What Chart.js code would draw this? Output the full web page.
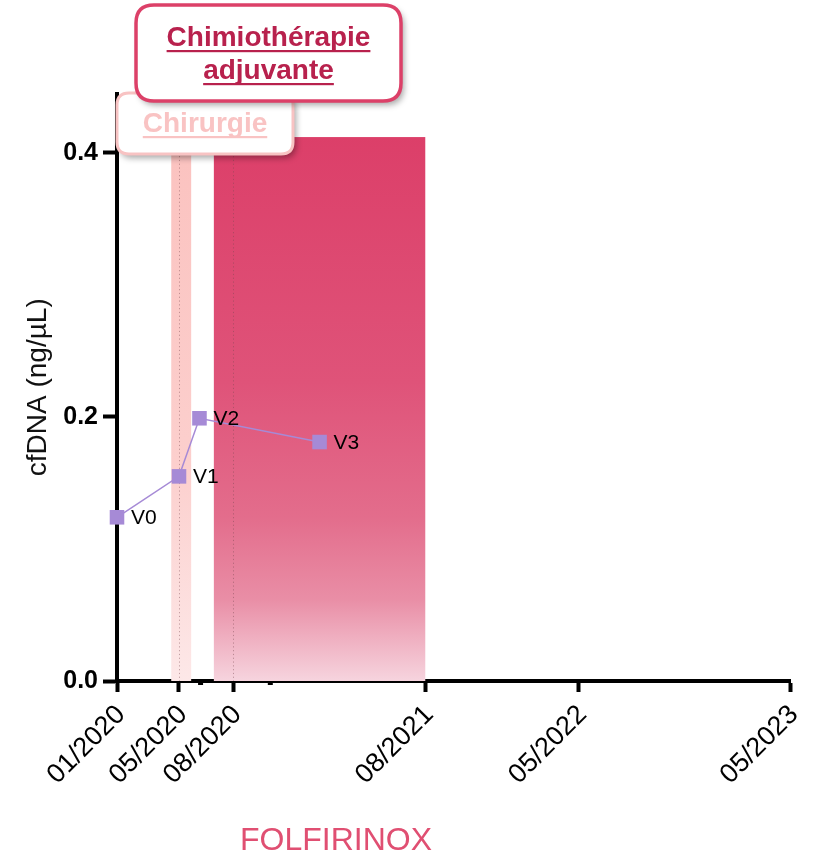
<!DOCTYPE html>
<html><head><meta charset="utf-8">
<script src="https://cdn.jsdelivr.net/npm/chart.js@4/dist/chart.umd.min.js"></script>
<style>html,body{margin:0;padding:0;background:#fff;overflow:hidden}canvas{display:block}</style>
</head><body>
<canvas id="c" width="821" height="854"></canvas>
<script>
// ---- data ----
const visitLabels = ['V0', 'V1', 'V2', 'V3'];
const visitDays = [0, 112, 149, 366];          // days since 01/2020
const cfDNA = [0.124, 0.155, 0.199, 0.181];    // ng/µL
const tickDays = [0, 112, 210, 557, 834, 1216];
const tickLabels = ['01/2020', '05/2020', '08/2020', '08/2021', '05/2022', '05/2023'];
const minorTickDays = [151, 277];
const yTicks = [0, 0.2, 0.4];
const surgeryPeriod = [98, 134];
const surgeryMarkerDay = 112;
const chemoPeriod = [175, 557];
const chemoMarkerDay = 210;
const periodTop = 0.412;
const yMax = 0.445;

const FONT = 'Arial, "Liberation Sans", Helvetica, sans-serif';

function roundRectPath(ctx, x, y, w, h, r) {
  ctx.beginPath();
  ctx.moveTo(x + r, y);
  ctx.lineTo(x + w - r, y);
  ctx.quadraticCurveTo(x + w, y, x + w, y + r);
  ctx.lineTo(x + w, y + h - r);
  ctx.quadraticCurveTo(x + w, y + h, x + w - r, y + h);
  ctx.lineTo(x + r, y + h);
  ctx.quadraticCurveTo(x, y + h, x, y + h - r);
  ctx.lineTo(x, y + r);
  ctx.quadraticCurveTo(x, y, x + r, y);
  ctx.closePath();
}

function labelBox(ctx, x, y, w, h, r, stroke, lw, lines, color, cx, baselines) {
  ctx.save();
  ctx.shadowColor = 'rgba(0,0,0,0.35)';
  ctx.shadowBlur = 6;
  ctx.shadowOffsetX = 3;
  ctx.shadowOffsetY = 4;
  roundRectPath(ctx, x, y, w, h, r);
  ctx.fillStyle = '#fff';
  ctx.fill();
  ctx.shadowColor = 'transparent';
  ctx.lineWidth = lw;
  ctx.strokeStyle = stroke;
  ctx.stroke();
  ctx.font = 'bold 28px ' + FONT;
  ctx.fillStyle = color;
  ctx.textAlign = 'center';
  ctx.textBaseline = 'alphabetic';
  lines.forEach((t, i) => {
    ctx.fillText(t, cx, baselines[i]);
    const tw = ctx.measureText(t).width;
    ctx.fillRect(cx - tw / 2, baselines[i] + 4, tw, 2.2);
  });
  ctx.restore();
}

const periodsPlugin = {
  id: 'periods',
  beforeDatasetsDraw(chart) {
    const {ctx, scales: {x, y}} = chart;
    const y0 = y.getPixelForValue(0);
    const yt = y.getPixelForValue(periodTop);
    ctx.save();
    // surgery band
    let g = ctx.createLinearGradient(0, yt, 0, y0);
    g.addColorStop(0, '#fbc2bf');
    g.addColorStop(0.6, '#fccfcd');
    g.addColorStop(1, '#fde8e8');
    ctx.fillStyle = g;
    const sx1 = x.getPixelForValue(surgeryPeriod[0]), sx2 = x.getPixelForValue(surgeryPeriod[1]);
    ctx.fillRect(sx1, yt, sx2 - sx1, y0 - yt);
    // chemo band
    g = ctx.createLinearGradient(0, yt, 0, y0);
    g.addColorStop(0, '#dc3f69');
    g.addColorStop(0.45, '#df5379');
    g.addColorStop(0.7, '#e36d8c');
    g.addColorStop(0.85, '#e98ea6');
    g.addColorStop(1, '#f6d4de');
    ctx.fillStyle = g;
    const cx1 = x.getPixelForValue(chemoPeriod[0]), cx2 = x.getPixelForValue(chemoPeriod[1]);
    ctx.fillRect(cx1, yt, cx2 - cx1, y0 - yt);
    // dotted markers
    ctx.setLineDash([1.2, 2.6]);
    ctx.lineWidth = 1;
    ctx.strokeStyle = 'rgba(120,70,80,0.45)';
    [surgeryMarkerDay, chemoMarkerDay].forEach(d => {
      const px = Math.round(x.getPixelForValue(d)) + 0.5;
      ctx.beginPath();
      ctx.moveTo(px, yt);
      ctx.lineTo(px, y0);
      ctx.stroke();
    });
    ctx.restore();
  },
  afterDatasetsDraw(chart) {
    const {ctx} = chart;
    const meta = chart.getDatasetMeta(0);
    ctx.save();
    ctx.font = '21px ' + FONT;
    ctx.fillStyle = '#000';
    ctx.textAlign = 'left';
    ctx.textBaseline = 'middle';
    meta.data.forEach((pt, i) => {
      ctx.fillText(visitLabels[i], pt.x + 14, pt.y + 1);
    });
    ctx.restore();
  },
  afterDraw(chart) {
    const {ctx, scales: {x, y}} = chart;
    ctx.save();
    // minor ticks
    ctx.fillStyle = '#000';
    const yb = y.getPixelForValue(0);
    minorTickDays.forEach(d => {
      const px = x.getPixelForValue(d);
      ctx.fillRect(px - 2.5, yb + 1, 5, 3);
    });
    // FOLFIRINOX label
    ctx.font = '32px ' + FONT;
    ctx.fillStyle = '#e04f72';
    ctx.textAlign = 'center';
    ctx.textBaseline = 'alphabetic';
    ctx.fillText('FOLFIRINOX', 336, 850);
    ctx.restore();
    // annotation boxes
    labelBox(ctx, 117, 93, 176, 61, 12, '#f8c3c3', 3, ['Chirurgie'], '#f9c3c3', 205, [132]);
    labelBox(ctx, 136, 5, 265, 96, 18, '#dc4068', 3.5, ['Chimiothérapie', 'adjuvante'], '#b8214d', 268.5, [46, 79]);
  }
};

new Chart(document.getElementById('c'), {
  type: 'scatter',
  data: {
    datasets: [{
      data: visitDays.map((d, i) => ({x: d, y: cfDNA[i]})),
      showLine: true,
      borderColor: '#a68ad6',
      borderWidth: 1.5,
      backgroundColor: '#a68ad6',
      pointBackgroundColor: '#a68ad6',
      pointBorderColor: '#a68ad6',
      pointBorderWidth: 0,
      pointStyle: 'rect',
      pointRadius: 10.3,
      pointHoverRadius: 10.3,
      clip: false
    }]
  },
  options: {
    responsive: false,
    animation: false,
    devicePixelRatio: 1,
    layout: {padding: {top: 93.5, right: 31, left: 0, bottom: 0}},
    plugins: {legend: {display: false}, tooltip: {enabled: false}},
    scales: {
      x: {
        type: 'linear',
        min: tickDays[0],
        max: tickDays[tickDays.length - 1],
        afterBuildTicks: s => { s.ticks = tickDays.map(v => ({value: v})); },
        afterFit: s => { s.height = 173; },
        ticks: {
          autoSkip: false,
          minRotation: 45,
          maxRotation: 45,
          padding: 7,
          labelOffset: 4,
          color: '#000',
          font: {family: FONT, size: 27},
          callback: (v, i) => tickLabels[i]
        },
        grid: {display: true, drawOnChartArea: false, drawTicks: true, tickLength: 11, tickWidth: 4, tickColor: '#000', color: '#000'},
        border: {display: true, color: '#000', width: 4}
      },
      y: {
        type: 'linear',
        min: 0,
        max: yMax,
        afterBuildTicks: s => { s.ticks = yTicks.map(v => ({value: v})); },
        afterFit: s => { s.width = 117; },
        ticks: {
          padding: 5,
          color: '#000',
          font: {family: FONT, size: 25, weight: 'bold'},
          callback: v => v.toFixed(1)
        },
        grid: {display: true, drawOnChartArea: false, drawTicks: true, tickLength: 14, tickWidth: 4, tickColor: '#000', color: '#000'},
        border: {display: true, color: '#000', width: 4},
        title: {display: true, text: 'cfDNA (ng/µL)', color: '#111', font: {family: FONT, size: 28}, padding: {top: 21, bottom: 0}}
      }
    }
  },
  plugins: [periodsPlugin]
});
</script>
</body></html>
